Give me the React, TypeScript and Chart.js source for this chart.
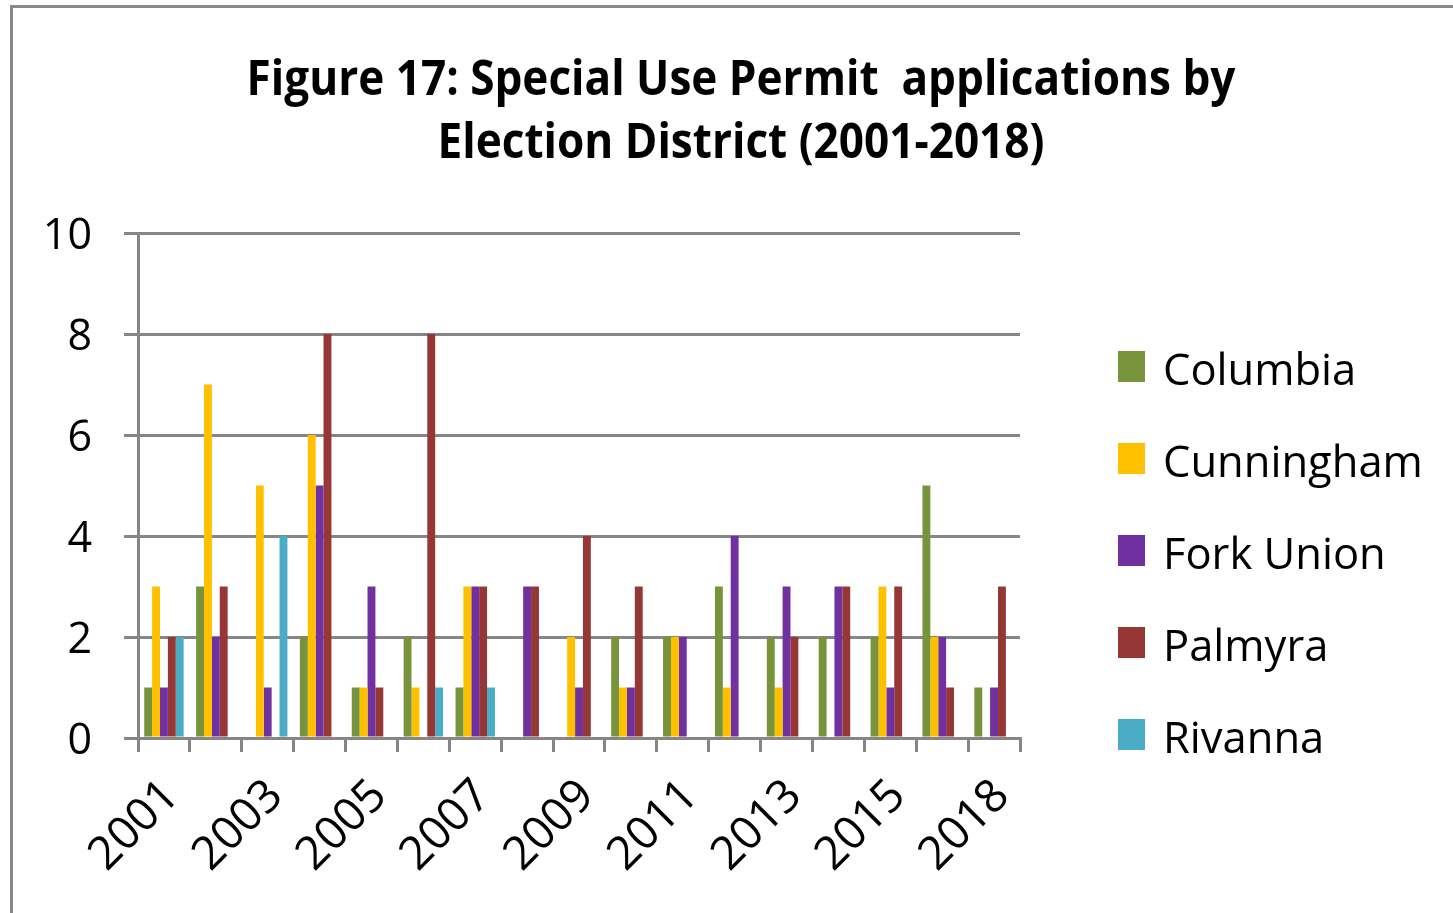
import { useEffect, useRef } from 'react';
import { Chart, registerables } from 'chart.js';

Chart.register(...registerables);

// Years on the category axis (2017 has no entry)
const years = ['2001', '2002', '2003', '2004', '2005', '2006', '2007', '2008', '2009', '2010', '2011', '2012', '2013', '2014', '2015', '2016', '2018'];

// Special Use Permit applications per election district
const columbia = [1, 3, 0, 2, 1, 2, 1, 0, 0, 2, 2, 3, 2, 2, 2, 5, 1];
const cunningham = [3, 7, 5, 6, 1, 1, 3, 0, 2, 1, 2, 1, 1, 0, 3, 2, 0];
const forkUnion = [1, 2, 1, 5, 3, 0, 3, 3, 1, 1, 2, 4, 3, 3, 1, 2, 1];
const palmyra = [2, 3, 0, 8, 1, 8, 3, 3, 4, 3, 0, 0, 2, 3, 3, 1, 3];
const rivanna = [2, 0, 4, 0, 0, 1, 1, 0, 0, 0, 0, 0, 0, 0, 0, 0, 0];

const districtNames = ['Columbia', 'Cunningham', 'Fork Union', 'Palmyra', 'Rivanna'];
const districtColors = ['#77933C', '#FFC000', '#7030A0', '#953735', '#4BACC6'];

const titleLines = ['Figure 17: Special Use Permit  applications by', 'Election District (2001-2018)'];

const yTicks = [0, 2, 4, 6, 8, 10];

const BODY_FONT = "'Open Sans', 'Noto Sans', sans-serif";
const TITLE_FONT = "'Open Sans', 'Noto Sans', sans-serif";
const AXIS_GRAY = '#868686';

// Draws the two-line heading (slightly condensed) and the key at the right of the plot
const headerAndKey = {
  id: 'headerAndKey',
  afterDraw(chart: any) {
    const { ctx, chartArea } = chart;
    ctx.save();
    ctx.fillStyle = '#000';
    ctx.textAlign = 'center';
    ctx.textBaseline = 'alphabetic';
    ctx.font = `bold 49px ${TITLE_FONT}`;
    const cx = chart.width / 2 + 8;
    ctx.save();
    ctx.translate(cx, 0);
    ctx.scale(0.9, 1);
    ctx.fillText(titleLines[0], 0, 87);
    ctx.fillText(titleLines[1], 0, 150);
    ctx.restore();

    ctx.textAlign = 'left';
    ctx.font = `43.5px ${BODY_FONT}`;
    chart.data.datasets.forEach((ds: any, i: number) => {
      const baseline = chartArea.top + 152 + i * 92;
      ctx.fillStyle = ds.backgroundColor;
      ctx.fillRect(chartArea.right + 98, baseline - 34, 27, 31);
      ctx.fillStyle = '#000';
      ctx.fillText(ds.label, chartArea.right + 143, baseline);
    });
    ctx.restore();
  },
};

export default function App() {
  const canvasRef = useRef<HTMLCanvasElement>(null);

  useEffect(() => {
    if (!canvasRef.current) return;
    const series = [columbia, cunningham, forkUnion, palmyra, rivanna];
    const chart = new Chart(canvasRef.current, {
      type: 'bar',
      data: {
        labels: years,
        datasets: series.map((values, i) => ({
          label: districtNames[i],
          data: values,
          backgroundColor: districtColors[i],
          borderWidth: 0,
          barPercentage: 1,
          categoryPercentage: 0.76,
        })),
      },
      options: {
        responsive: false,
        animation: false,
        devicePixelRatio: 1,
        layout: { padding: { left: 0, top: 225, right: 433, bottom: 0 } },
        plugins: {
          legend: { display: false },
          title: { display: false },
          tooltip: { enabled: false },
        },
        scales: {
          x: {
            grid: {
              display: true,
              drawOnChartArea: false,
              drawTicks: true,
              tickLength: 14,
              color: AXIS_GRAY,
              lineWidth: 3,
            },
            border: { display: true, color: AXIS_GRAY, width: 3 },
            ticks: {
              autoSkip: false,
              maxRotation: 45,
              minRotation: 45,
              padding: 17,
              labelOffset: 8,
              color: '#000',
              font: { family: BODY_FONT, size: 46 },
              callback: (_v: any, i: number) => (i % 2 === 0 ? years[i] : ''),
            },
            afterFit: (scale: any) => {
              scale.height = 175;
            },
          },
          y: {
            min: 0,
            max: 10,
            grid: {
              color: AXIS_GRAY,
              lineWidth: 3,
              tickLength: 14,
            },
            border: { display: true, color: AXIS_GRAY, width: 3 },
            afterBuildTicks: (scale: any) => {
              scale.ticks = yTicks.map((v) => ({ value: v }));
            },
            ticks: {
              padding: 32,
              labelOffset: 4,
              color: '#000',
              font: { family: BODY_FONT, size: 43 },
            },
            afterFit: (scale: any) => {
              scale.width = 125;
            },
          },
        },
      },
      plugins: [headerAndKey],
    });
    return () => chart.destroy();
  }, []);

  return (
    <div style={{ position: 'fixed', inset: 0, overflow: 'hidden', background: '#fff' }}>
      <div
        style={{
          position: 'absolute',
          left: 10,
          top: 5,
          width: 1600,
          height: 1100,
          borderLeft: '3px solid #898989',
          borderTop: '3px solid #898989',
        }}
      />
      <canvas
        ref={canvasRef}
        width={1440}
        height={905}
        style={{ position: 'absolute', left: 13, top: 8, width: 1440, height: 905 }}
      />
    </div>
  );
}
